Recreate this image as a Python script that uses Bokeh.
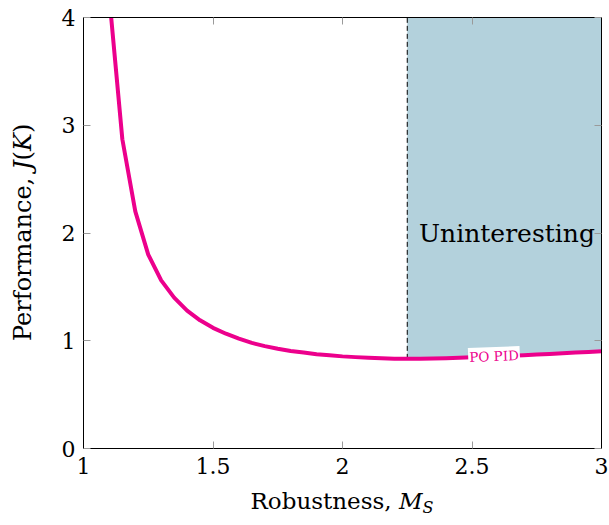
from bokeh.plotting import figure
from bokeh.models import LinearAxis, FixedTicker, Label, Range1d, Div
from bokeh.layouts import row, column
from bokeh.embed import file_html
from bokeh.resources import INLINE
import numpy as np

# ---- data ----
ms = [1.10, 1.15, 1.20, 1.25, 1.30, 1.35, 1.40, 1.45, 1.50, 1.55, 1.60, 1.65,
      1.70, 1.75, 1.80, 1.85, 1.90, 1.95, 2.00, 2.05, 2.10, 2.15, 2.20, 2.25,
      2.30, 2.35, 2.40, 2.45, 2.50, 2.55, 2.60, 2.65, 2.70, 2.75, 2.80, 2.85,
      2.90, 2.95, 3.00]
perf = [4.18, 2.87, 2.20, 1.80, 1.56, 1.40, 1.28, 1.19, 1.12, 1.065, 1.02, 0.98,
        0.95, 0.925, 0.905, 0.89, 0.875, 0.865, 0.855, 0.848, 0.842, 0.837, 0.833, 0.832,
        0.833, 0.835, 0.838, 0.842, 0.846, 0.851, 0.856, 0.861, 0.866, 0.872, 0.878, 0.884,
        0.890, 0.896, 0.902]
x_ticks = [1, 1.5, 2, 2.5, 3]
x_tick_labels = ["1", "1.5", "2", "2.5", "3"]
y_ticks = [0, 1, 2, 3, 4]
y_tick_labels = ["0", "1", "2", "3", "4"]
x_cut = 2.25
x_min, x_max = 1, 3
y_min, y_max = 0, 4

FONT = "DejaVu Serif"
MAGENTA = "#EC008C"
SHADE = "#B3D1DC"

YLAB_W = 45
FIG_W = 609 - YLAB_W
FIG_H = 488
XLAB_H = 525 - FIG_H
BL, BR, BT, BB = 38, 8, 17, 40

p = figure(width=FIG_W, height=FIG_H, output_backend="svg", toolbar_location=None,
           x_range=Range1d(x_min, x_max), y_range=Range1d(y_min, y_max),
           min_border_left=BL, min_border_right=BR, min_border_top=BT, min_border_bottom=BB)
p.xgrid.visible = False
p.ygrid.visible = False
p.outline_line_color = "black"
p.outline_line_width = 1

def style_axis(ax, ticks, labels, show_labels=True):
    ax.ticker = FixedTicker(ticks=ticks)
    ax.major_tick_in = 7
    ax.major_tick_out = 0
    ax.major_tick_line_color = "#9a9a9a"
    ax.minor_tick_line_color = None
    ax.axis_line_color = "black"
    ax.major_label_text_font = FONT
    if show_labels:
        ax.major_label_overrides = {t: l for t, l in zip(ticks, labels)}
        ax.major_label_text_font_size = "22px"
        ax.major_label_text_color = "black"
        ax.major_label_standoff = 9
    else:
        ax.major_label_overrides = {t: "" for t in ticks}
        ax.major_label_text_color = None
        ax.major_label_standoff = 0

style_axis(p.xaxis[0], x_ticks, x_tick_labels)
style_axis(p.yaxis[0], y_ticks, y_tick_labels)
p.xaxis[0].major_label_standoff = 9
p.yaxis[0].major_label_standoff = 8

top_ax = LinearAxis()
style_axis(top_ax, x_ticks, x_tick_labels, show_labels=False)
p.add_layout(top_ax, "above")
right_ax = LinearAxis()
style_axis(right_ax, y_ticks, y_tick_labels, show_labels=False)
p.add_layout(right_ax, "right")

# shaded uninteresting region
ms_a = np.array(ms)
perf_a = np.array(perf)
mask = ms_a >= x_cut
p.varea(x=ms_a[mask], y1=perf_a[mask], y2=y_max, fill_color=SHADE, fill_alpha=1.0)

# dashed boundary
y_cut = float(np.interp(x_cut, ms_a, perf_a))
p.segment(x0=[x_cut], y0=[y_cut], x1=[x_cut], y1=[y_max], line_color="black",
          line_width=1, line_dash="5 3")

# curve
p.line(ms, perf, line_color=MAGENTA, line_width=4, line_join="round")

# labels
p.add_layout(Label(x=2.635, y=2.0, text="Uninteresting", text_font=FONT,
                   text_font_size="25px", text_align="center", text_baseline="middle",
                   text_color="black"))
p.add_layout(Label(x=2.585, y=0.858, text="PO PID", text_font=FONT,
                   text_font_size="13.5px", text_align="center", text_baseline="middle",
                   text_color=MAGENTA, angle=0.04, background_fill_color="white",
                   background_fill_alpha=1.0, padding=1))

# axis titles as HTML text (italic math parts)
frame_w = FIG_W - BL - BR
frame_h = FIG_H - BT - BB
xlab = Div(width=FIG_W, height=XLAB_H, margin=0,
           text=('<div style="margin-left:%dpx; margin-top:0px; width:%dpx; text-align:center; '
                 'font-family:\'DejaVu Serif\'; font-size:23px; line-height:26px; '
                 'white-space:nowrap; color:black;">Robustness, <i>M</i>'
                 '<sub style="font-size:16px; vertical-align:-4px;"><i>S</i></sub></div>')
                % (BL, frame_w))
ylab = Div(width=YLAB_W, height=525, margin=0,
           text=('<div style="writing-mode:vertical-rl; transform:rotate(180deg); '
                 'height:%dpx; margin-top:%dpx; margin-left:10px; text-align:center; '
                 'font-family:\'DejaVu Serif\'; font-size:24px; line-height:27px; '
                 'white-space:nowrap; color:black;">Performance, <i>J</i>(<i>K</i>)</div>')
                % (frame_h, BT))

layout = row(ylab, column(p, xlab, spacing=0), spacing=0)

open("out.html", "w").write(file_html(layout, INLINE))
